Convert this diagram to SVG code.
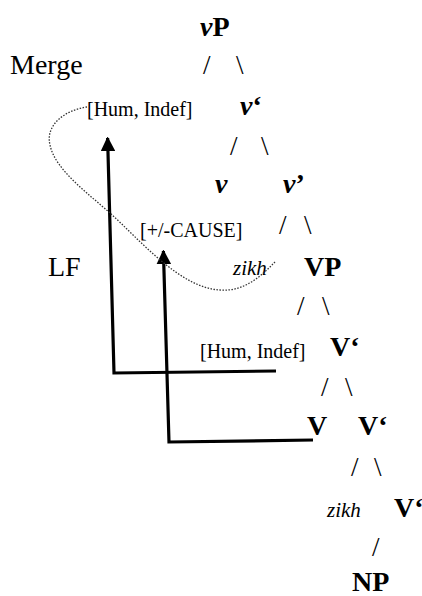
<svg xmlns="http://www.w3.org/2000/svg" width="422" height="596" viewBox="0 0 422 596">
<style>
text{font-family:"Liberation Serif","Times New Roman",serif;fill:#000}
.cat{font-weight:bold;font-size:28px}
.it{font-style:italic}
.sl{font-size:27px}
.lab{font-size:28px}
.feat{font-size:20px}
.zikh{font-size:21px;font-style:italic}
.arr{stroke:#000;stroke-width:3.2;fill:none}
</style>
<defs>
<marker id="ah" viewBox="0 0 10 10" refX="9" refY="5" markerWidth="4.6" markerHeight="4.6" orient="auto" markerUnits="strokeWidth">
<path d="M0,0 L10,5 L0,10 Z" fill="#000"/>
</marker>
</defs>
<rect width="422" height="596" fill="#fff"/>
<g id="labels">
<text id="merge" class="lab" x="10" y="74">Merge</text>
<text id="lf" class="lab" x="48" y="276">LF</text>
</g>
<g id="n-vP"><text class="cat" x="200" y="36"><tspan class="it">v</tspan>P</text></g>
<g id="n-vbar1"><text class="cat" x="240" y="115"><tspan class="it">v</tspan>‘</text></g>
<g id="n-feat1"><text class="feat" x="87" y="116">[Hum, Indef]</text></g>
<g id="n-v"><text class="cat it" x="215" y="193">v</text></g>
<g id="n-vbar2"><text class="cat" x="283" y="193"><tspan class="it">v</tspan>’</text></g>
<g id="n-cause"><text class="feat" x="140" y="237">[+/-CAUSE]</text></g>
<g id="n-zikh1"><text class="zikh" x="233" y="275">zikh</text></g>
<g id="n-VP"><text class="cat" x="304" y="276">VP</text></g>
<g id="n-feat2"><text class="feat" x="200" y="358">[Hum, Indef]</text></g>
<g id="n-Vbar1"><text class="cat" x="330" y="356">V‘</text></g>
<g id="n-V"><text class="cat" x="307" y="435">V</text></g>
<g id="n-Vbar2"><text class="cat" x="358" y="435">V‘</text></g>
<g id="n-zikh2"><text class="zikh" x="327" y="517">zikh</text></g>
<g id="n-Vbar3"><text class="cat" x="394" y="517">V‘</text></g>
<g id="n-NP"><text class="cat" x="352" y="591">NP</text></g>
<g id="connectors">
<g id="branches">
<text class="sl" x="203" y="74">/</text><text class="sl" x="236" y="74">\</text>
<text class="sl" x="230" y="155">/</text><text class="sl" x="261" y="155">\</text>
<text class="sl" x="279" y="234">/</text><text class="sl" x="304" y="234">\</text>
<text class="sl" x="297" y="315">/</text><text class="sl" x="322" y="315">\</text>
<text class="sl" x="321" y="396">/</text><text class="sl" x="345" y="396">\</text>
<text class="sl" x="351" y="476">/</text><text class="sl" x="374" y="476">\</text>
<text class="sl" x="372" y="556">/</text>
</g>
<path class="arr" d="M276,371 L114,373 L107.6,138" marker-end="url(#ah)"/>
<path class="arr" d="M313,440 L169,442 L163.4,251" marker-end="url(#ah)"/>
<path d="M87,107 C65,110 45,125 50,145 C55,170 90,195 110,213 C140,240 180,288 220,290 C245,292 262,275 275,262" fill="none" stroke="#333" stroke-width="1.3" stroke-dasharray="1.5,1.5"/>
</g>
</svg>
